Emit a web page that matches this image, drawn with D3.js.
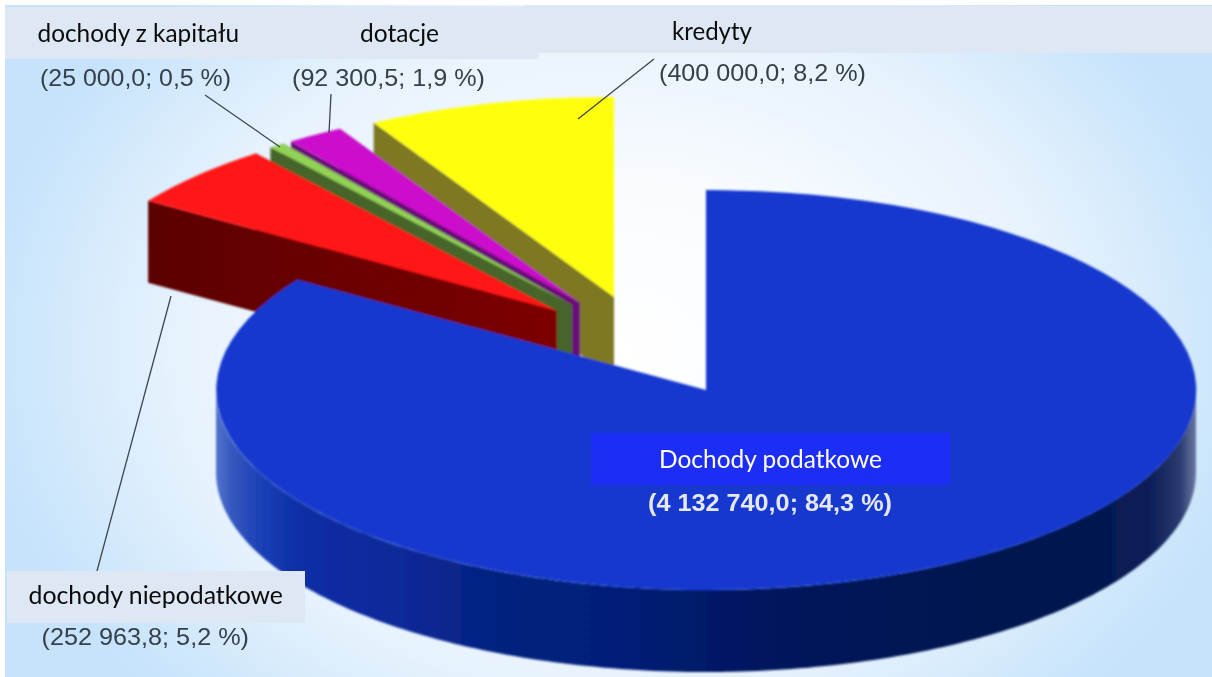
<!DOCTYPE html>
<html><head><meta charset="utf-8">
<script src="https://cdnjs.cloudflare.com/ajax/libs/d3/7.8.5/d3.min.js"></script>
<style>html,body{margin:0;padding:0;background:#fff;overflow:hidden}svg{display:block}</style>
</head><body><svg id="c" width="1212" height="677"></svg>
<script>
// data
const categories = ["Dochody podatkowe","dochody niepodatkowe","dochody z kapitału","dotacje","kredyty"];
const values = [4132740.0,252963.8,25000.0,92300.5,400000.0];
const percents = [84.3,5.2,0.5,1.9,8.2];
const valueLabels = ["(4 132 740,0; 84,3 %)","(252 963,8; 5,2 %)","(25 000,0; 0,5 %)","(92 300,5; 1,9 %)","(400 000,0; 8,2 %)"];
// styles
const topColors = ["#1239cf","#ff1414","#92d254","#cc10cc","#ffff0a"];
const wallColors = ["#0a2a90","#6c0000","#47652c","#6a0a78","#7e7820"];
// layout
const centre = [706,390], rx = 490, ry = 200, depth = 82;
const pull = [[0,0],[-149,-79],[-134,-85],[-126,-87],[-92,-93]];
const drawOrder = [4,3,2,1,0];
const catPos = [[659,468,223],[28.5,604,254.5],[37.5,42,201.5],[360,42,79],[672,40,80]];
const valPos = [[648,511,244],[41.5,645,207.5],[40,86,191],[292,86,193],[659,81,207]];
const leaders = [null,[[171,296],[97,571]],[[205,95],[280,147]],[[331,94],[329,133]],[[654,59],[578,119]]];
const bands = [[5,7,533,52],[525,5,375,48],[900,6,312,47],[7,571,298,52]];

const svg = d3.select("#c");
const defs = svg.append("defs");
const bg = defs.append("radialGradient").attr("id","bg").attr("gradientUnits","userSpaceOnUse")
  .attr("cx",0).attr("cy",0).attr("r",1)
  .attr("gradientTransform","translate(620,350) scale(640,490)");
[[0,"#ffffff"],[.35,"#f8fbfe"],[.7,"#e6f2fd"],[1,"#c6e3fb"]].forEach(s=>bg.append("stop").attr("offset",s[0]).attr("stop-color",s[1]));
const wg = defs.append("linearGradient").attr("id","wall").attr("gradientUnits","userSpaceOnUse")
  .attr("x1",centre[0]-rx).attr("x2",centre[0]+rx).attr("y1",0).attr("y2",0);
[[216,"#5273cc"],[232,"#3558bf"],[262,"#1a3fb5"],[300,"#0c2ea5"],[400,"#08299a"],[500,"#06227f"],[620,"#041f78"],[700,"#031a68"],[800,"#00165a"],[1000,"#001650"],[1100,"#041850"],[1150,"#0c1f58"],[1180,"#2c3a6e"],[1196,"#6a7aa4"]]
  .forEach(s=>wg.append("stop").attr("offset",(s[0]-216)/980).attr("stop-color",s[1]));
const rg = defs.append("linearGradient").attr("id","redwall").attr("gradientUnits","userSpaceOnUse")
  .attr("x1",148).attr("x2",557).attr("y1",0).attr("y2",0);
rg.append("stop").attr("offset",0).attr("stop-color","#5c0000");
rg.append("stop").attr("offset",1).attr("stop-color","#7c0000");
defs.append("filter").attr("id","soft").append("feGaussianBlur").attr("stdDeviation",0.9);
defs.append("filter").attr("id","softText").append("feGaussianBlur").attr("stdDeviation",0.45);

svg.append("rect").attr("x",5).attr("y",5).attr("width",1207).attr("height",672).attr("fill","url(#bg)");

const pie = d3.pie().sort(null).startAngle(0).endAngle(2*Math.PI)(values);
const arc = d3.arc().innerRadius(0).outerRadius(1);
const line = d3.line();
const rim = (a,o,dy=0)=>[centre[0]+o[0]+rx*Math.sin(a),centre[1]+o[1]-ry*Math.cos(a)+dy];
const hub = (o,dy=0)=>[centre[0]+o[0],centre[1]+o[1]+dy];

const marks = svg.append("g").attr("filter","url(#soft)");
drawOrder.forEach(i=>{
  const p = pie[i], o = pull[i];
  if(i===0){
    const sweep = d3.range(Math.PI/2,3*Math.PI/2+.001,Math.PI/180);
    const pts = sweep.map(a=>rim(a,o)).concat(sweep.slice().reverse().map(a=>rim(a,o,depth)));
    marks.append("path").attr("d",line(pts)+"Z").attr("fill","url(#wall)");
  } else {
    const pts = [hub(o),rim(p.startAngle,o),rim(p.startAngle,o,depth),hub(o,depth)];
    marks.append("path").attr("d",line(pts)+"Z").attr("fill",i===1?"url(#redwall)":wallColors[i]);
    const pts2 = [hub(o),rim(p.endAngle,o),rim(p.endAngle,o,depth),hub(o,depth)];
    marks.append("path").attr("d",line(pts2)+"Z").attr("fill",i===1?"url(#redwall)":wallColors[i]);
  }
  marks.append("path").attr("d",arc(p)).attr("fill",topColors[i])
    .attr("transform",`translate(${centre[0]+o[0]},${centre[1]+o[1]}) scale(${rx},${ry})`);
});

leaders.forEach(l=>{ if(l) svg.append("path").attr("d",line(l)).attr("stroke","#3c4650").attr("stroke-width",1.3).attr("fill","none"); });

svg.selectAll("rect.band").data(bands).join("rect").attr("class","band")
  .attr("x",d=>d[0]).attr("y",d=>d[1]).attr("width",d=>d[2]).attr("height",d=>d[3]).attr("fill","#dde8f4");
svg.append("rect").attr("x",591).attr("y",433).attr("width",359).attr("height",52).attr("fill","#1c2ef5");

svg.selectAll("text.cat").data(categories).join("text").attr("class","cat")
  .attr("x",(d,i)=>catPos[i][0]).attr("y",(d,i)=>catPos[i][1])
  .attr("textLength",(d,i)=>catPos[i][2]).attr("lengthAdjust","spacingAndGlyphs")
  .attr("font-family","Lato, sans-serif").attr("font-size",25)
  .attr("fill",(d,i)=>i===0?"#ffffff":"#0b0b0b").text(d=>d);
svg.selectAll("text.val").data(valueLabels).join("text").attr("class","val")
  .attr("x",(d,i)=>valPos[i][0]).attr("y",(d,i)=>valPos[i][1])
  .attr("textLength",(d,i)=>valPos[i][2]).attr("lengthAdjust","spacingAndGlyphs")
  .attr("font-family","'Liberation Sans', Arial, sans-serif").attr("font-size",24.5)
  .attr("font-weight",(d,i)=>i===0?"bold":"normal")
  .attr("fill",(d,i)=>i===0?"#e4e8f4":"#36414c").attr("filter","url(#softText)").text(d=>d);
</script></body></html>
